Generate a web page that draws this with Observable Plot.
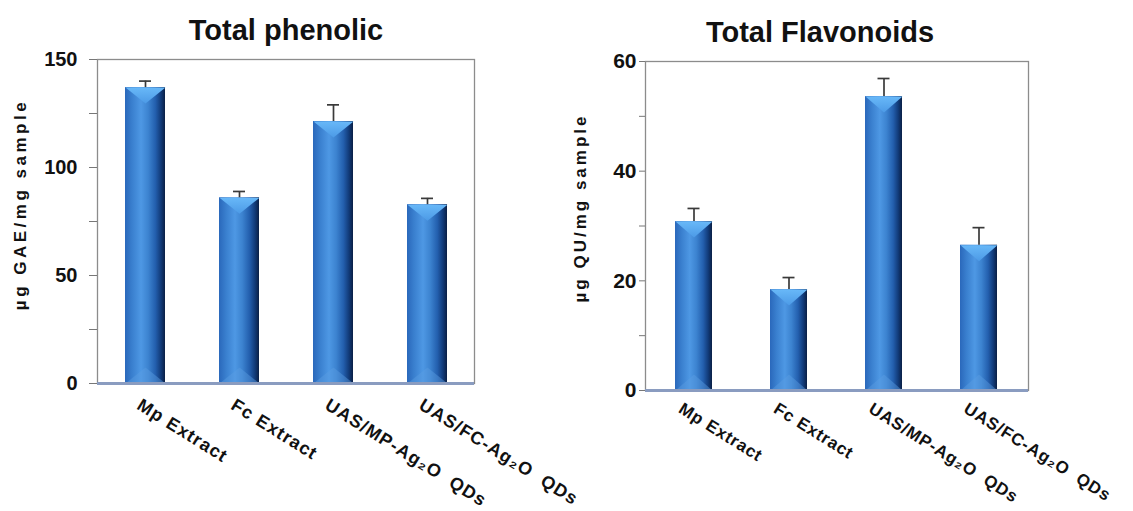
<!DOCTYPE html>
<html>
<head>
<meta charset="utf-8">
<script src="https://cdn.jsdelivr.net/npm/d3@7"></script>
<script src="https://cdn.jsdelivr.net/npm/@observablehq/plot@0.6"></script>
<style>
  body { margin: 0; background: #fff; }
  #wrap { position: relative; width: 1133px; height: 511px; overflow: hidden; background: #fff; }
  #wrap svg.chart { position: absolute; top: 0; background: transparent !important; overflow: visible !important; }
</style>
</head>
<body>
<svg width="0" height="0" style="position:absolute">
  <defs>
    <linearGradient id="barGrad" x1="0" x2="1" y1="0" y2="0">
      <stop offset="0%" stop-color="#2a68bb"/>
      <stop offset="18%" stop-color="#3a80cf"/>
      <stop offset="40%" stop-color="#4e98e4"/>
      <stop offset="58%" stop-color="#3c83d0"/>
      <stop offset="76%" stop-color="#235fae"/>
      <stop offset="90%" stop-color="#113a78"/>
      <stop offset="100%" stop-color="#0a1f45"/>
    </linearGradient>
    <linearGradient id="triGrad" x1="0" x2="0" y1="0" y2="1">
      <stop offset="0%" stop-color="#68b8f8"/>
      <stop offset="100%" stop-color="#4c9ae6"/>
    </linearGradient>
    <filter id="shadow" x="-30%" y="-10%" width="170%" height="130%">
      <feDropShadow dx="4" dy="2" stdDeviation="2.2" flood-color="#000" flood-opacity="0.45"/>
    </filter>
    <filter id="lineShadow" x="-5%" y="-200%" width="110%" height="600%">
      <feDropShadow dx="2" dy="3" stdDeviation="1.5" flood-color="#7d8fb5" flood-opacity="0.6"/>
    </filter>
  </defs>
</svg>
<div id="wrap"></div>
<script>
// ---- Data ----
const categories = ["Mp Extract", "Fc Extract", "UAS/MP-Ag\u2082O\u00a0\u00a0QDs", "UAS/FC-Ag\u2082O\u00a0\u00a0QDs"];

const phenolicValues = [137.0, 86.0, 121.3, 82.8];
const phenolicErrors = [3.0, 2.9, 7.7, 2.9];
const phenolicTicks = [0, 25, 50, 75, 100, 125, 150];
const phenolicTitle = "Total phenolic";
const phenolicYLabel = "\u00b5g GAE/mg sample";

const flavonoidValues = [30.8, 18.4, 53.6, 26.5];
const flavonoidErrors = [2.4, 2.2, 3.3, 3.2];
const flavonoidTicks = [0, 10, 20, 30, 40, 50, 60];
const flavonoidTitle = "Total Flavonoids";
const flavonoidYLabel = "\u00b5g QU/mg sample";

// ---- Chart builder ----
function makeChart(o) {
  const data = categories.map((c, i) => ({cat: c, v: o.values[i], e: o.errors[i]}));
  const hw = o.triHalf, td = o.triDepth;
  const triDown = {draw(ctx) { ctx.moveTo(-hw, 0); ctx.lineTo(hw, 0); ctx.lineTo(0, td); ctx.closePath(); }};
  const triUp = {draw(ctx) { ctx.moveTo(-hw, 0); ctx.lineTo(hw, 0); ctx.lineTo(0, -td); ctx.closePath(); }};
  const svg = Plot.plot({
    width: o.width,
    height: 511,
    marginLeft: o.ml, marginRight: o.mr, marginTop: o.mt, marginBottom: o.mb,
    style: {fontFamily: "'Liberation Sans', Arial, sans-serif", fontWeight: "bold", color: "#111", background: "transparent", overflow: "visible"},
    x: {domain: categories, paddingInner: o.padIn, paddingOuter: o.padIn / 2, axis: null},
    y: {domain: [0, o.max], axis: null},
    marks: [
      Plot.frame({stroke: "#8c8c8c", strokeWidth: 1.3}),
      Plot.barY(data, {x: "cat", y: "v", fill: "url(#barGrad)", ariaLabel: "bars"}),
      Plot.dot(data, {x: "cat", y: "v", symbol: triDown, fill: "url(#triGrad)", stroke: "none", ariaLabel: "bevel"}),
      Plot.dot(data, {x: "cat", y: () => 0, symbol: triUp, fill: "#5b9de2", fillOpacity: 0.45, stroke: "none", ariaLabel: "bevel"}),
      Plot.ruleX(data, {x: "cat", y1: "v", y2: d => d.v + d.e, stroke: "#3a3a3a", strokeWidth: 1.7}),
      Plot.tickY(data, {x: "cat", y: d => d.v + d.e, stroke: "#3a3a3a", strokeWidth: 1.7, insetLeft: o.capInset, insetRight: o.capInset}),
      Plot.ruleY([0], {stroke: "#8a9cc0", strokeWidth: 3, ariaLabel: "baseline"}),
      Plot.axisY({ticks: o.ticks, tickSize: o.tickSize, tickPadding: o.tickPad, stroke: "#777", label: null,
                  tickFormat: d => (d % o.labelStep === 0 ? d : ""), fontSize: o.tickFont}),
      Plot.text([o.title], {frameAnchor: "top", dx: o.titleDx, dy: o.titleDy, fontSize: 29, lineAnchor: "middle", textAnchor: "middle", fill: "#111"}),
      Plot.text([o.ylabel], {frameAnchor: "left", rotate: -90, dx: o.ylDx, dy: o.ylDy, fontSize: 17, lineAnchor: "middle", textAnchor: "middle", fill: "#111"}),
      Plot.text(categories, {x: d => d, frameAnchor: "bottom", rotate: 32, textAnchor: "start", lineAnchor: "top",
                             dx: o.xlDx, dy: o.xlDy, fontSize: o.xlFont, fill: "#111"})
    ]
  });
  svg.classList.add("chart");
  svg.style.left = o.left + "px";
  const s = d3.select(svg);
  s.select('g[aria-label="bars"]').attr("filter", "url(#shadow)");
  s.select('g[aria-label="baseline"]').attr("filter", "url(#lineShadow)");
  s.selectAll("text").filter(function() { return this.textContent === o.ylabel; })
    .attr("letter-spacing", o.ylSpacing);
  s.selectAll("text").filter(function() { return categories.includes(this.textContent); })
    .attr("letter-spacing", o.xlSpacing);
  return svg;
}

const wrap = document.getElementById("wrap");
wrap.appendChild(makeChart({
  left: 0, width: 560, ml: 97, mr: 86, mt: 59, mb: 128,
  values: phenolicValues, errors: phenolicErrors, max: 150, ticks: phenolicTicks, labelStep: 50,
  padIn: 0.576, triHalf: 20, triDepth: 16, capInset: 14,
  tickSize: 8, tickPad: 12, tickFont: 20,
  title: phenolicTitle, titleDx: 0, titleDy: -29,
  ylabel: phenolicYLabel, ylDx: -77, ylDy: -17, ylSpacing: 3.5,
  xlDx: -3, xlDy: 14, xlFont: 18, xlSpacing: 1.1
}));
wrap.appendChild(makeChart({
  left: 560, width: 573, ml: 85, mr: 105, mt: 61, mb: 121,
  values: flavonoidValues, errors: flavonoidErrors, max: 60, ticks: flavonoidTicks, labelStep: 20,
  padIn: 0.61, triHalf: 18.5, triDepth: 16, capInset: 12.5,
  tickSize: 6, tickPad: 3, tickFont: 21,
  title: flavonoidTitle, titleDx: -17, titleDy: -29,
  ylabel: flavonoidYLabel, ylDx: -65, ylDy: -18, ylSpacing: 3,
  xlDx: -10, xlDy: 11, xlFont: 17, xlSpacing: 0.8
}));
</script>
</body>
</html>
